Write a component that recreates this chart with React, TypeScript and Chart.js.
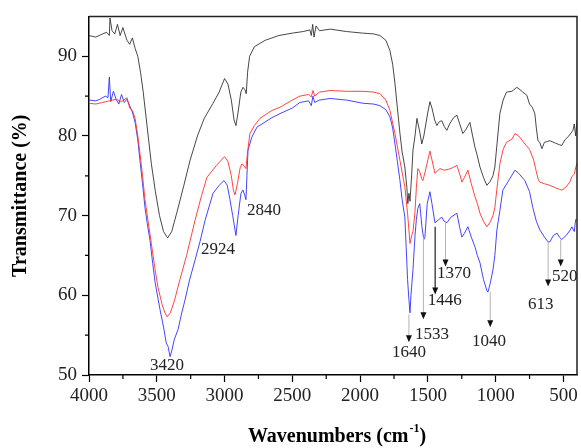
import { useEffect, useRef } from 'react';
import { Chart, registerables } from 'chart.js';

Chart.register(...registerables);

// ---- Data (wavenumber cm-1, transmittance %) ----
const blackWn = [4000, 3950, 3900, 3870, 3850, 3845, 3830, 3810, 3790, 3770, 3750, 3720, 3700, 3680, 3660, 3640, 3620, 3600, 3580, 3560, 3540, 3510, 3480, 3450, 3420, 3390, 3350, 3300, 3255, 3200, 3150, 3085, 3040, 3000, 2975, 2950, 2930, 2916, 2900, 2880, 2864, 2850, 2840, 2830, 2815, 2780, 2700, 2600, 2500, 2420, 2370, 2360, 2350, 2340, 2325, 2300, 2220, 2100, 1980, 1900, 1854, 1810, 1780, 1760, 1743, 1725, 1706, 1690, 1670, 1655, 1648, 1640, 1632, 1620, 1610, 1595, 1581, 1560, 1545, 1530, 1500, 1485, 1470, 1450, 1434, 1415, 1397, 1380, 1360, 1340, 1310, 1286, 1265, 1242, 1220, 1190, 1170, 1153, 1135, 1116, 1090, 1065, 1040, 1020, 1006, 990, 969, 945, 920, 880, 844, 820, 800, 770, 750, 730, 711, 700, 688, 675, 659, 640, 620, 600, 560, 530, 512, 490, 460, 430, 420, 410, 400];
const blackT = [92.6, 92.4, 92.8, 93.0, 92.6, 94.8, 93.2, 92.8, 94.0, 92.6, 93.6, 92.0, 91.5, 92.3, 91.0, 90.0, 88.0, 85.5, 82.5, 79.5, 76.5, 73.0, 70.0, 68.0, 67.2, 68.0, 70.5, 73.8, 76.9, 80.0, 82.2, 84.1, 85.5, 87.2, 86.5, 84.5, 82.0, 81.3, 83.0, 85.5, 86.1, 85.8, 85.3, 88.0, 90.0, 91.2, 92.0, 92.6, 92.9, 93.1, 93.3, 92.6, 94.0, 92.4, 93.8, 93.2, 93.4, 93.1, 92.9, 92.8, 92.6, 92.0, 90.7, 89.0, 86.6, 83.5, 80.3, 78.0, 76.1, 73.5, 71.5, 72.8, 71.8, 75.0, 78.2, 80.0, 82.2, 80.5, 79.0, 80.0, 83.0, 84.3, 83.5, 82.0, 81.3, 81.8, 81.9, 81.2, 80.7, 81.5, 82.3, 82.6, 81.5, 80.3, 80.8, 81.7, 80.0, 78.6, 77.5, 76.1, 74.8, 73.8, 74.3, 75.0, 76.1, 79.0, 82.8, 84.5, 85.5, 85.6, 86.1, 85.8, 85.5, 85.1, 84.0, 83.6, 82.8, 81.0, 79.4, 79.2, 78.4, 79.2, 79.3, 79.4, 79.1, 78.9, 78.8, 79.5, 80.0, 80.7, 81.5, 80.0, 82.0];

const redWn = [4000, 3950, 3900, 3850, 3800, 3760, 3720, 3700, 3680, 3660, 3640, 3624, 3605, 3587, 3565, 3540, 3515, 3491, 3460, 3440, 3424, 3400, 3370, 3329, 3280, 3218, 3170, 3130, 3060, 3000, 2975, 2950, 2935, 2923, 2905, 2885, 2872, 2855, 2842, 2830, 2813, 2780, 2739, 2650, 2591, 2500, 2444, 2380, 2360, 2348, 2335, 2300, 2222, 2100, 1979, 1900, 1854, 1810, 1780, 1743, 1706, 1670, 1650, 1632, 1620, 1610, 1596, 1585, 1574, 1560, 1545, 1537, 1520, 1500, 1485, 1470, 1448, 1430, 1411, 1380, 1350, 1320, 1286, 1265, 1249, 1230, 1205, 1180, 1153, 1135, 1116, 1090, 1065, 1040, 1020, 1006, 990, 969, 945, 920, 880, 858, 830, 785, 750, 720, 700, 685, 674, 640, 600, 560, 530, 512, 480, 450, 438, 420, 410, 400];
const redT = [84.1, 84.0, 84.2, 84.4, 84.6, 84.3, 84.8, 83.5, 83.2, 82.2, 80.0, 77.8, 75.0, 72.0, 69.4, 66.5, 63.5, 61.0, 58.8, 57.8, 57.3, 57.8, 59.3, 62.0, 65.0, 69.4, 72.5, 74.8, 76.3, 77.4, 76.8, 75.0, 73.2, 72.6, 74.0, 76.0, 76.5, 76.2, 75.9, 78.0, 80.3, 81.3, 82.2, 83.2, 83.6, 84.5, 85.0, 85.2, 84.9, 85.7, 85.0, 85.5, 85.7, 85.6, 85.6, 85.5, 85.3, 84.5, 83.2, 80.3, 76.9, 73.6, 70.3, 66.5, 67.5, 68.0, 70.3, 73.5, 75.9, 75.5, 74.6, 74.4, 75.5, 77.0, 78.1, 77.0, 75.3, 75.6, 75.9, 75.7, 75.8, 76.0, 76.3, 75.2, 74.2, 74.8, 75.7, 74.0, 72.4, 71.5, 70.3, 69.3, 68.6, 69.2, 70.0, 71.0, 73.5, 76.5, 78.3, 79.2, 79.6, 80.3, 80.0, 79.0, 78.3, 77.0, 75.5, 74.5, 74.2, 74.0, 73.8, 73.5, 73.3, 73.2, 73.6, 74.3, 74.9, 75.2, 76.0, 76.6];

const blueWn = [4000, 3950, 3920, 3880, 3860, 3850, 3840, 3820, 3800, 3780, 3760, 3740, 3720, 3700, 3680, 3660, 3640, 3624, 3605, 3587, 3570, 3550, 3530, 3513, 3490, 3476, 3450, 3430, 3417, 3402, 3390, 3370, 3343, 3320, 3292, 3260, 3218, 3180, 3144, 3085, 3040, 3004, 2980, 2960, 2940, 2916, 2900, 2879, 2864, 2852, 2842, 2835, 2827, 2800, 2761, 2650, 2591, 2500, 2444, 2380, 2360, 2348, 2335, 2300, 2222, 2100, 1979, 1900, 1854, 1810, 1780, 1760, 1743, 1725, 1706, 1690, 1670, 1660, 1650, 1640, 1632, 1625, 1610, 1595, 1585, 1574, 1560, 1544, 1530, 1522, 1505, 1485, 1470, 1448, 1420, 1397, 1380, 1360, 1330, 1286, 1265, 1249, 1230, 1205, 1180, 1153, 1135, 1116, 1090, 1065, 1057, 1040, 1020, 1006, 991, 970, 947, 900, 858, 830, 785, 750, 726, 700, 674, 640, 613, 600, 575, 548, 530, 512, 480, 450, 438, 420, 410, 400];
const blueT = [84.5, 84.4, 84.6, 85.0, 84.8, 87.4, 84.3, 85.6, 84.6, 84.0, 85.2, 84.2, 84.6, 83.8, 83.0, 81.7, 79.5, 76.9, 74.0, 71.0, 69.0, 66.9, 64.0, 61.7, 59.5, 58.2, 56.0, 54.0, 53.6, 52.3, 53.0, 54.5, 55.7, 57.5, 59.4, 61.8, 64.4, 66.8, 69.4, 72.8, 73.8, 74.4, 73.8, 72.0, 70.0, 67.5, 70.0, 72.8, 73.2, 72.6, 72.0, 75.0, 78.2, 79.8, 81.1, 82.3, 82.8, 83.5, 84.2, 84.4, 83.8, 85.0, 84.2, 84.5, 84.7, 84.5, 84.1, 84.0, 83.8, 83.3, 82.4, 81.0, 79.0, 76.8, 74.4, 72.0, 69.8, 66.0, 62.0, 59.5, 57.8, 60.0, 63.2, 67.5, 69.5, 70.9, 71.5, 68.6, 67.0, 67.3, 71.5, 73.0, 71.5, 69.1, 69.5, 69.8, 69.3, 69.1, 69.8, 70.3, 68.5, 67.3, 67.8, 68.6, 67.3, 66.1, 65.0, 64.1, 62.0, 60.6, 60.4, 61.5, 63.2, 65.0, 68.2, 70.5, 73.2, 74.5, 75.7, 75.3, 74.4, 73.0, 71.0, 69.3, 68.2, 67.3, 66.7, 66.7, 67.5, 67.8, 67.3, 67.0, 67.5, 68.2, 68.6, 68.0, 69.5, 69.4];

const xMajorTicks = [4000, 3500, 3000, 2500, 2000, 1500, 1000, 500];
const xMinorTicks = [3750, 3250, 2750, 2250, 1750, 1250, 750];
const yMajorTicks = [50, 60, 70, 80, 90];
const yMinorTicks = [55, 65, 75, 85];

// Peak annotations: arrows (wavenumber, from T, to T)
const arrowWn = [1640, 1533, 1446, 1370, 1040, 613, 520];
const arrowFrom = [57.6, 67.3, 68.6, 69.1, 60.4, 66.7, 67.0];
const arrowTo = [54.1, 57.0, 60.1, 63.6, 56.0, 61.1, 63.6];

// Peak labels (text, wavenumber, T of label centre)
const peakLabels = ['3420', '2924', '2840', '1640', '1533', '1446', '1370', '1040', '613', '520'];
const peakLabelWn = [3425, 3049, 2709, 1640, 1470, 1375, 1308, 1050, 667, 490];
const peakLabelT = [51.2, 65.8, 70.6, 52.8, 55.1, 59.4, 62.7, 54.2, 58.8, 62.3];

const SERIF = "'Liberation Serif', 'Times New Roman', serif";

function toPoints(xs: number[], ys: number[]) {
  return xs.map((x, i) => ({ x, y: ys[i] }));
}

const overlayPlugin = {
  id: 'overlay',
  afterDraw(chart: any) {
    const ctx = chart.ctx as CanvasRenderingContext2D;
    const xs = chart.scales.x;
    const ys = chart.scales.y;
    const a = chart.chartArea;
    ctx.save();
    // frame top & right
    ctx.strokeStyle = '#222';
    ctx.lineWidth = 1.5;
    ctx.beginPath();
    ctx.moveTo(a.left, a.top);
    ctx.lineTo(a.right, a.top);
    ctx.lineTo(a.right, a.bottom);
    ctx.stroke();
    // minor ticks
    ctx.strokeStyle = '#000';
    ctx.lineWidth = 1.2;
    ctx.beginPath();
    xMinorTicks.forEach((v) => {
      const px = xs.getPixelForValue(v);
      ctx.moveTo(px, a.bottom);
      ctx.lineTo(px, a.bottom + 4);
    });
    yMinorTicks.forEach((v) => {
      const py = ys.getPixelForValue(v);
      ctx.moveTo(a.left, py);
      ctx.lineTo(a.left - 4, py);
    });
    ctx.stroke();
    // arrows
    arrowWn.forEach((wn, i) => {
      const px = xs.getPixelForValue(wn);
      const y0 = ys.getPixelForValue(arrowFrom[i]);
      const y1 = ys.getPixelForValue(arrowTo[i]);
      ctx.strokeStyle = i === 2 ? '#555' : '#b5b5b5';
      ctx.lineWidth = i === 2 ? 1.6 : 1;
      ctx.beginPath();
      ctx.moveTo(px, y0);
      ctx.lineTo(px, y1 - 5);
      ctx.stroke();
      ctx.fillStyle = '#111';
      ctx.beginPath();
      ctx.moveTo(px - 3, y1 - 7);
      ctx.lineTo(px + 3, y1 - 7);
      ctx.lineTo(px, y1);
      ctx.closePath();
      ctx.fill();
    });
    // labels
    ctx.fillStyle = '#222';
    ctx.font = `17px ${SERIF}`;
    ctx.textAlign = 'center';
    ctx.textBaseline = 'middle';
    peakLabels.forEach((t, i) => {
      ctx.fillText(t, xs.getPixelForValue(peakLabelWn[i]), ys.getPixelForValue(peakLabelT[i]));
    });
    // y title
    ctx.fillStyle = '#000';
    ctx.font = `bold 20px ${SERIF}`;
    ctx.save();
    ctx.translate(21, (a.top + a.bottom) / 2);
    ctx.rotate(-Math.PI / 2);
    ctx.fillText('Transmittance (%)', 0, 0);
    ctx.restore();
    // x title with superscript
    const mainA = 'Wavenumbers (cm';
    const sup = '-1';
    const mainB = ')';
    ctx.font = `bold 20px ${SERIF}`;
    const wA = ctx.measureText(mainA).width;
    const wB = ctx.measureText(mainB).width;
    ctx.font = `bold 12px ${SERIF}`;
    const wS = ctx.measureText(sup).width;
    const total = wA + wS + wB + 1;
    let sx = (a.left + a.right) / 2 - total / 2 + 4;
    const baseY = 442;
    ctx.textAlign = 'left';
    ctx.textBaseline = 'alphabetic';
    ctx.font = `bold 20px ${SERIF}`;
    ctx.fillText(mainA, sx, baseY);
    sx += wA + 1;
    ctx.font = `bold 12px ${SERIF}`;
    ctx.fillText(sup, sx, baseY - 10);
    sx += wS;
    ctx.font = `bold 20px ${SERIF}`;
    ctx.fillText(mainB, sx, baseY);
    ctx.restore();
  },
};

export default function App() {
  const ref = useRef<HTMLCanvasElement | null>(null);
  useEffect(() => {
    document.body.style.margin = '0';
    const canvas = ref.current;
    if (!canvas) return;
    const chart = new Chart(canvas, {
      type: 'line',
      data: {
        datasets: [
          { label: 'A', data: toPoints(blackWn, blackT), borderColor: '#333333', borderWidth: 0.9, pointRadius: 0, fill: false },
          { label: 'B', data: toPoints(redWn, redT), borderColor: '#ff3030', borderWidth: 0.9, pointRadius: 0, fill: false },
          { label: 'C', data: toPoints(blueWn, blueT), borderColor: '#3030ff', borderWidth: 0.9, pointRadius: 0, fill: false },
        ],
      },
      options: {
        responsive: false,
        animation: false,
        layout: { padding: { top: 16, right: 4, left: 0, bottom: 0 } },
        plugins: { legend: { display: false }, tooltip: { enabled: false } },
        scales: {
          x: {
            type: 'linear',
            reverse: true,
            min: 400,
            max: 4000,
            afterBuildTicks: (s: any) => { s.ticks = xMajorTicks.map((v) => ({ value: v })); },
            afterFit: (s: any) => { s.height = 73; },
            grid: { drawOnChartArea: false, drawTicks: true, tickLength: 7, tickColor: '#000', tickWidth: 1.2 },
            border: { display: true, color: '#000', width: 1.5 },
            ticks: { color: '#222', padding: 3, maxRotation: 0, autoSkip: false, font: { family: SERIF, size: 19 }, callback: (v: any) => String(v) },
          },
          y: {
            type: 'linear',
            min: 50,
            max: 95,
            afterBuildTicks: (s: any) => { s.ticks = yMajorTicks.map((v) => ({ value: v })); },
            afterFit: (s: any) => { s.width = 89; },
            grid: { drawOnChartArea: false, drawTicks: true, tickLength: 7, tickColor: '#000', tickWidth: 1.2 },
            border: { display: true, color: '#000', width: 1.5 },
            ticks: { color: '#222', padding: 5, autoSkip: false, font: { family: SERIF, size: 19 }, callback: (v: any) => String(v) },
          },
        },
      },
      plugins: [overlayPlugin],
    } as any);
    return () => chart.destroy();
  }, []);
  return (
    <div style={{ position: 'absolute', left: 0, top: 0, width: 581, height: 448, background: '#fff' }}>
      <canvas ref={ref} width={581} height={448} style={{ display: 'block' }} />
    </div>
  );
}
